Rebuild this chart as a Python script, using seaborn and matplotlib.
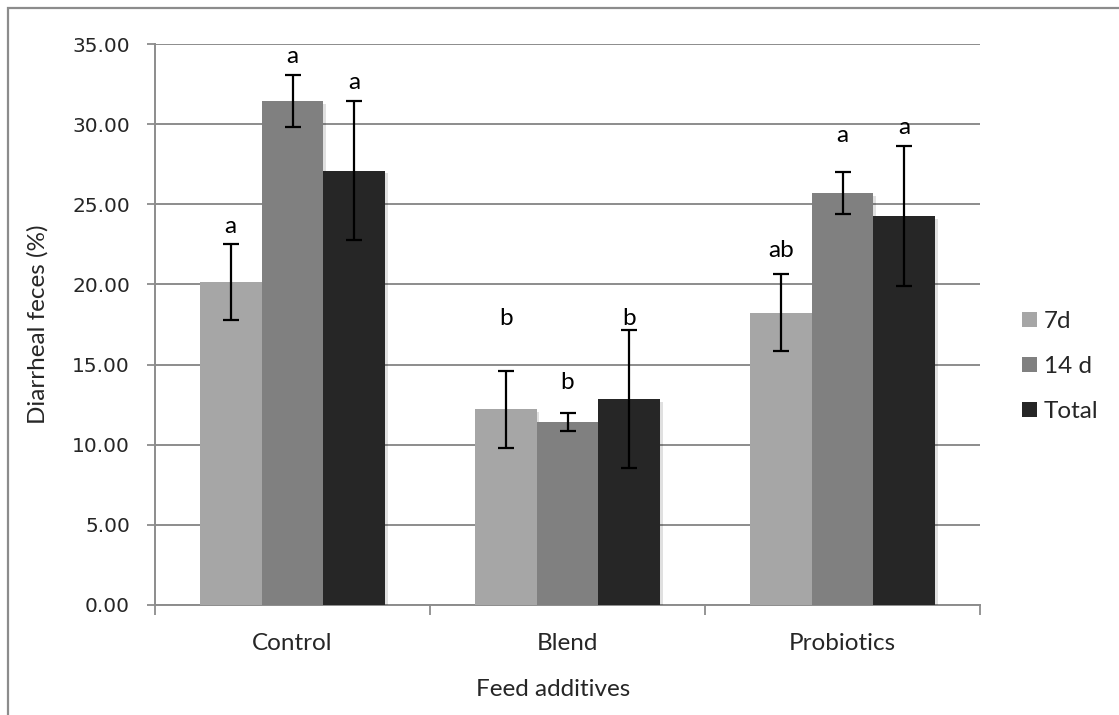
import numpy as np
import pandas as pd
import matplotlib
matplotlib.use("Agg")
import matplotlib.pyplot as plt
import matplotlib.patheffects as pe
from matplotlib.patches import Rectangle
import seaborn as sns

# Diarrheal feces (%) by feed additive and sampling period
categories = ["Control", "Blend", "Probiotics"]
periods = ["7d", "14 d", "Total"]
mean_7d = [20.15, 12.20, 18.22]
mean_14d = [31.45, 11.43, 25.70]
mean_total = [27.10, 12.85, 24.28]
sem_7d = [2.40, 2.40, 2.40]
sem_14d = [1.60, 0.57, 1.30]
sem_total = [4.35, 4.33, 4.35]
letters_7d = ["a", "b", "ab"]
letters_14d = ["a", "b", "a"]
letters_total = ["a", "b", "a"]

# height (in data units) where each significance letter sits
letter_y_7d = [23.6, 17.9, 22.1]
letter_y_14d = [34.2, 13.9, 29.3]
letter_y_total = [32.6, 17.9, 29.8]

colors = ["#A6A6A6", "#808080", "#262626"]

df = pd.DataFrame({
    "Feed additives": categories * 3,
    "Period": [p for p in periods for _ in categories],
    "Value": mean_7d + mean_14d + mean_total,
})
errs = [sem_7d, sem_14d, sem_total]
letters = [letters_7d, letters_14d, letters_total]
letter_ys = [letter_y_7d, letter_y_14d, letter_y_total]

sns.set_theme(style="white")
plt.rcParams["font.family"] = ["Lato", "DejaVu Sans"]
FS = 17.5

fig = plt.figure(figsize=(11.19, 7.15), dpi=100)
ax = fig.add_axes([155 / 1119, 1 - 605 / 715, 825 / 1119, 561 / 715])

sns.barplot(data=df, x="Feed additives", y="Value", hue="Period",
            order=categories, hue_order=periods, palette=colors,
            width=0.673, errorbar=None, saturation=1, ax=ax, zorder=3,
            linewidth=0)

for cont, err, labs, lys in zip(ax.containers, errs, letters, letter_ys):
    xs = []
    for bar in cont:
        bar.set_path_effects([pe.SimplePatchShadow(offset=(2, -2), shadow_rgbFace="#000000", alpha=0.12),
                              pe.Normal()])
        xs.append(bar.get_x() + bar.get_width() / 2)
    heights = [b.get_height() for b in cont]
    ax.errorbar(xs, heights, yerr=err, fmt="none", ecolor="black",
                elinewidth=1.6, capsize=5.5, capthick=1.6, zorder=5)
    for x, ly, t in zip(xs, lys, labs):
        ax.text(x, ly, t, ha="center", va="center", fontsize=FS, color="black",
                family=["Lato", "DejaVu Sans"])

ax.set_ylim(0, 35)
ax.set_xlim(-0.5, 2.5)
ax.set_yticks(np.arange(0, 35.1, 5))
ax.set_yticklabels([f"{v:.2f}" for v in np.arange(0, 35.1, 5)],
                   family=["DejaVu Sans"], fontsize=14.5)
ax.yaxis.grid(True, color="#8C8C8C", linewidth=1.4, zorder=0)
ax.set_axisbelow(True)

# category boundary ticks on the x axis
ax.set_xticks([-0.5, 0.5, 1.5, 2.5], minor=True)
ax.tick_params(axis="x", which="minor", length=7, width=1.3, color="#8C8C8C", direction="out", bottom=True)
ax.tick_params(axis="x", which="major", length=0, labelsize=FS, pad=20)
ax.tick_params(axis="y", which="major", length=6, width=1.3, color="#8C8C8C", direction="out", left=True, pad=12)

for s in ["top", "right"]:
    ax.spines[s].set_visible(False)
for s in ["left", "bottom"]:
    ax.spines[s].set_color("#8C8C8C")
    ax.spines[s].set_linewidth(1.4)

ax.set_xlabel("Feed additives", fontsize=FS)
ax.set_ylabel("Diarrheal feces (%)", fontsize=FS)
ax.xaxis.set_label_coords((553 - 155) / 825, -(690 - 605) / 561)
ax.yaxis.set_label_coords(-(155 - 38) / 825, 0.5)
ax.xaxis.label.set_va("center")
ax.yaxis.label.set_va("center")

leg = ax.legend(loc="upper left", bbox_to_anchor=(1010 / 1119, 1 - 299 / 715),
                bbox_transform=fig.transFigure, frameon=False, fontsize=FS,
                handlelength=0.6, handleheight=0.6, handletextpad=0.3,
                labelspacing=0.99, title=None, borderpad=0)

# chart-area border
fig.patches.append(Rectangle((7.5 / 1119, -0.1), 1.2, 1 - 7.5 / 715 + 0.1,
                             transform=fig.transFigure, fill=False,
                             edgecolor="#8C8C8C", linewidth=1.6, zorder=0))

fig.savefig("out.png", dpi=100, facecolor="white")
